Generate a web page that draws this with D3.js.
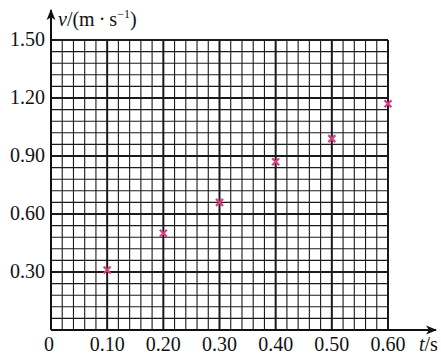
<!DOCTYPE html>
<html>
<head>
<meta charset="utf-8">
<script src="https://cdn.jsdelivr.net/npm/d3@7"></script>
<style>
  body { margin: 0; background: #fff; }
  text { font-family: 'Liberation Serif', 'Times New Roman', serif; fill: #111; }
</style>
</head>
<body>
<script>
// measured points (t in s, v in m/s)
var tValues = [0.10, 0.20, 0.30, 0.40, 0.50, 0.60];
var vValues = [0.31, 0.50, 0.66, 0.87, 0.99, 1.17];
var xTicks = [0.10, 0.20, 0.30, 0.40, 0.50, 0.60];
var yTicks = [0.30, 0.60, 0.90, 1.20, 1.50];

var width = 441, height = 356;
// note: "top" is taken by window.top, so plot edges get their own names
var plotLeft = 51, plotRight = 388, plotTop = 40, plotBottom = 330;

var svg = d3.select('body').append('svg')
  .attr('width', width)
  .attr('height', height);

var x = d3.scaleLinear().domain([0, 0.6]).range([plotLeft, plotRight]);
var y = d3.scaleLinear().domain([0, 1.5]).range([plotBottom, plotTop]);

// grid: minor every 0.02 s / 0.06 m/s, heavier at labelled values
var gx = d3.range(0, 31).map(function(i) { return i * 0.02; });
var gy = d3.range(0, 26).map(function(i) { return i * 0.06; });

var grid = svg.append('g').attr('stroke', '#1a1a1a');

grid.selectAll('line.v').data(gx).enter().append('line')
  .attr('class', 'v')
  .attr('x1', function(d) { return x(d); })
  .attr('x2', function(d) { return x(d); })
  .attr('y1', y(0))
  .attr('y2', y(1.5))
  .attr('stroke-width', function(d, i) { return i % 5 === 0 ? 2 : 1.1; });

grid.selectAll('line.h').data(gy).enter().append('line')
  .attr('class', 'h')
  .attr('x1', x(0))
  .attr('x2', x(0.6))
  .attr('y1', function(d) { return y(d); })
  .attr('y2', function(d) { return y(d); })
  .attr('stroke-width', function(d, i) { return i % 5 === 0 ? 2 : 1.1; });

// axes with arrows
svg.append('defs').append('marker')
  .attr('id', 'arrow')
  .attr('viewBox', '0 0 10 10')
  .attr('refX', 9).attr('refY', 5)
  .attr('markerWidth', 11).attr('markerHeight', 11)
  .attr('markerUnits', 'userSpaceOnUse')
  .attr('orient', 'auto')
  .append('path')
  .attr('d', 'M0,1 L10,5 L0,9 L2.5,5 Z')
  .attr('fill', '#111');

svg.append('line')
  .attr('x1', x(0)).attr('y1', y(0))
  .attr('x2', 436).attr('y2', y(0))
  .attr('stroke', '#111').attr('stroke-width', 2)
  .attr('marker-end', 'url(#arrow)');

svg.append('line')
  .attr('x1', x(0)).attr('y1', y(0))
  .attr('x2', x(0)).attr('y2', 10)
  .attr('stroke', '#111').attr('stroke-width', 2)
  .attr('marker-end', 'url(#arrow)');

// tick labels
svg.selectAll('text.xt').data(xTicks).enter().append('text')
  .attr('class', 'xt')
  .attr('x', function(d) { return x(d); })
  .attr('y', 351)
  .attr('text-anchor', 'middle')
  .style('font-size', '20px')
  .text(function(d) { return d.toFixed(2); });

svg.append('text')
  .attr('x', x(0) - 2).attr('y', 351)
  .attr('text-anchor', 'middle')
  .style('font-size', '20px')
  .text('0');

svg.selectAll('text.yt').data(yTicks).enter().append('text')
  .attr('class', 'yt')
  .attr('x', 45)
  .attr('y', function(d) { return y(d) + 6; })
  .attr('text-anchor', 'end')
  .style('font-size', '20px')
  .text(function(d) { return d.toFixed(2); });

// axis titles
var yl = svg.append('text')
  .attr('x', 58).attr('y', 26)
  .style('font-size', '20px');
yl.append('tspan').style('font-style', 'italic').text('v');
yl.append('tspan').text('/(m\u2009\u00b7\u2009s');
yl.append('tspan').attr('dy', -8).style('font-size', '12px').text('\u22121');
yl.append('tspan').attr('dy', 8).text(')');

var xl = svg.append('text')
  .attr('x', 419).attr('y', 351)
  .style('font-size', '20px');
xl.append('tspan').style('font-style', 'italic').text('t');
xl.append('tspan').text('/s');

// data marks
var s = 3.5;
var marks = svg.append('g')
  .attr('stroke', '#d5407f')
  .attr('stroke-width', 2.2);

marks.selectAll('path').data(tValues).enter().append('path')
  .attr('d', function(d, i) {
    var cx = x(d), cy = y(vValues[i]);
    return 'M' + (cx - s) + ',' + (cy - s) + 'L' + (cx + s) + ',' + (cy + s) +
      'M' + (cx - s) + ',' + (cy + s) + 'L' + (cx + s) + ',' + (cy - s);
  });
</script>
</body>
</html>
